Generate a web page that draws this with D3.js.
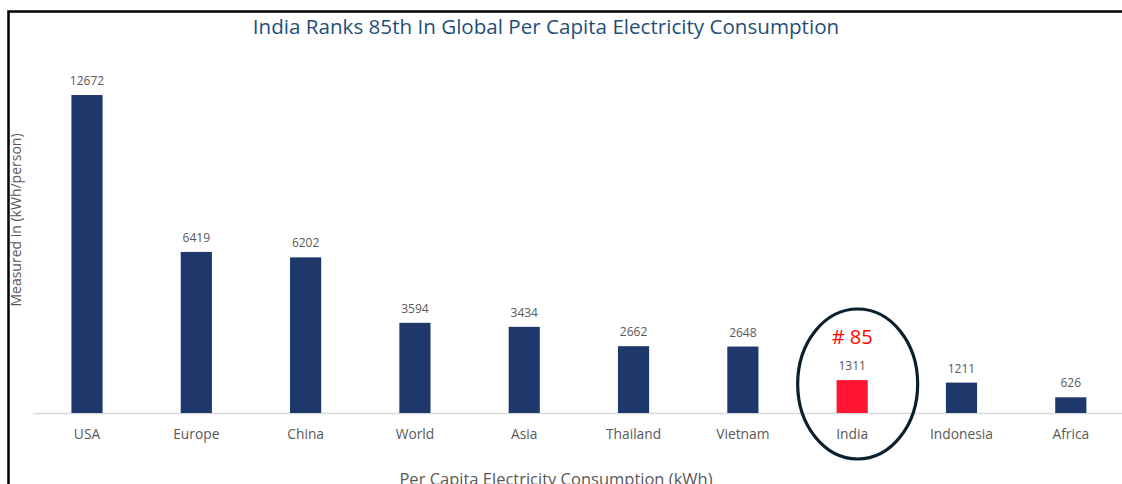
<!DOCTYPE html>
<html>
<head>
<meta charset="utf-8">
<script src="https://cdn.jsdelivr.net/npm/d3@7"></script>
<style>
  body { margin: 0; background: #fff; }
  text { font-family: "Open Sans", "Noto Sans", sans-serif; }
</style>
</head>
<body>
<svg id="chart" width="1122" height="484"></svg>
<script>
// chart data
const countries = ["USA", "Europe", "China", "World", "Asia", "Thailand", "Vietnam", "India", "Indonesia", "Africa"];
const consumption = [12672, 6419, 6202, 3594, 3434, 2662, 2648, 1311, 1211, 626];
const highlighted = "India";
const rankLabel = "# 85";

const titleText = "India Ranks 85th In Global Per Capita Electricity Consumption";
const xTitle = "Per Capita Electricity Consumption (kWh)";
const yTitle = "Measured in (kWh/person)";

const rows = countries.map((c, i) => ({ name: c, value: consumption[i] }));

const svg = d3.select("#chart");

// frame around the chart (runs off right and bottom)
svg.append("path")
   .attr("d", "M8.5,490 V11.5 H1130")
   .attr("fill", "none")
   .attr("stroke", "#000")
   .attr("stroke-width", 2.5);

const baseY = 413;

// scales
const x = d3.scaleBand()
            .domain(countries)
            .range([32.4, 1125.4])
            .paddingInner(0.715)
            .paddingOuter(0.357);

const y = d3.scaleLinear()
            .domain([0, 14000])
            .range([baseY, 61.7]);

// baseline
svg.append("line")
   .attr("x1", 33).attr("x2", 1122)
   .attr("y1", baseY + 0.5).attr("y2", baseY + 0.5)
   .attr("stroke", "#d9d9d9")
   .attr("stroke-width", 1.5);

// bars
svg.append("g")
   .selectAll("rect")
   .data(rows)
   .join("rect")
   .attr("x", d => x(d.name))
   .attr("width", x.bandwidth())
   .attr("y", d => y(d.value))
   .attr("height", d => y(0) - y(d.value))
   .attr("fill", d => d.name === highlighted ? "#ff1431" : "#1f386b");

// value labels
svg.append("g")
   .selectAll("text")
   .data(rows)
   .join("text")
   .attr("x", d => x(d.name) + x.bandwidth() / 2)
   .attr("y", d => y(d.value) - 10)
   .attr("text-anchor", "middle")
   .attr("font-size", 12)
   .attr("fill", "#595959")
   .text(d => d.value);

// category axis
const xAxis = d3.axisBottom(x).tickSize(0).tickPadding(16);
const gx = svg.append("g")
              .attr("transform", "translate(0," + baseY + ")")
              .call(xAxis);
gx.select(".domain").remove();
gx.selectAll("text")
  .attr("font-size", 13.8)
  .attr("font-family", "'Open Sans', 'Noto Sans', sans-serif")
  .attr("fill", "#595959");

// title
svg.append("text")
   .attr("x", 546)
   .attr("y", 34)
   .attr("text-anchor", "middle")
   .attr("font-size", 20.6)
   .attr("fill", "#1f4e79")
   .text(titleText);

// axis titles
svg.append("text")
   .attr("x", 556)
   .attr("y", 485)
   .attr("text-anchor", "middle")
   .attr("font-size", 16.5)
   .attr("fill", "#595959")
   .text(xTitle);

svg.append("text")
   .attr("transform", "translate(21,220) rotate(-90)")
   .attr("text-anchor", "middle")
   .attr("font-size", 14)
   .attr("fill", "#595959")
   .text(yTitle);

// highlight ellipse around India
const hx = x(highlighted) + x.bandwidth() / 2;
svg.append("ellipse")
   .attr("cx", hx + 5.5)
   .attr("cy", 384)
   .attr("rx", 60)
   .attr("ry", 75)
   .attr("fill", "none")
   .attr("stroke", "#0b1f2c")
   .attr("stroke-width", 3.2);

svg.append("text")
   .attr("x", hx)
   .attr("y", 344)
   .attr("text-anchor", "middle")
   .attr("font-size", 20)
   .attr("fill", "#ff0000")
   .text(rankLabel);
</script>
</body>
</html>
